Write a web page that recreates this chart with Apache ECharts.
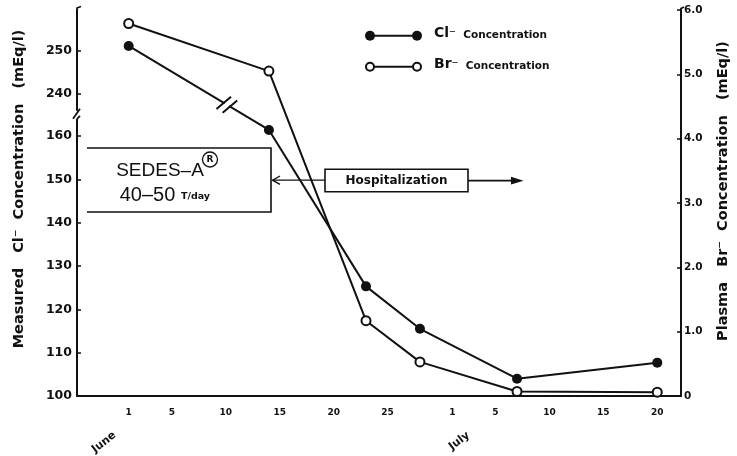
<!DOCTYPE html>
<html><head><meta charset="utf-8">
<script src="https://cdn.jsdelivr.net/npm/echarts@6/dist/echarts.min.js"></script>
<style>html,body{margin:0;padding:0;background:#fff}#c{width:737px;height:456px}</style>
</head><body><div id="c"></div>
<script>
// ---- data (days counted from June 1 = 1; July 1 = 31) ----
const days = [1, 14, 23, 28, 37, 50];
const clValues = [251, 161.4, 125.3, 115.5, 104, 107.7];
const brValues = [5.79, 5.05, 1.17, 0.53, 0.07, 0.06];
const xTickDays = [1, 5, 10, 15, 20, 25, 31, 35, 40, 45, 50];
const xTickLabels = ['1', '5', '10', '15', '20', '25', '1', '5', '10', '15', '20'];
const monthDays = [1, 31];
const monthLabels = ['June', 'July'];
const leftTicks = [100, 110, 120, 130, 140, 150, 160, 240, 250];
const rightTicks = [0, 1, 2, 3, 4, 5, 6];
const rightTickLabels = ['0', '1.0', '2.0', '3.0', '4.0', '5.0', '6.0'];
const leftAxisName = 'Measured   Cl\u207B  Concentration   (mEq/l)';
const rightAxisName = 'Plasma   Br\u207B  Concentration   (mEq/l)';
const legendLabels = ['Cl', 'Br'];
const legendSuffix = 'Concentration';

const INK = '#111';
const FONT = 'DejaVu Sans';

const chart = echarts.init(document.getElementById('c'), null, {renderer: 'canvas'});
const option = {
  animation: false,
  backgroundColor: '#fff',
  textStyle: {fontFamily: FONT, color: INK},
  grid: {left: 77, right: 56, top: 10, bottom: 60, containLabel: false},
  xAxis: {
    type: 'value', min: -3.79, max: 52.2,
    splitLine: {show: false},
    axisLine: {show: true, onZero: false, lineStyle: {color: INK, width: 2}},
    axisTick: {show: false},
    axisLabel: {
      customValues: xTickDays,
      formatter: function (v) { const i = xTickDays.indexOf(v); return i >= 0 ? xTickLabels[i] : ''; },
      fontFamily: FONT, fontWeight: 'bold', fontSize: 9, color: INK, margin: 12
    }
  },
  yAxis: [
    {
      type: 'value', position: 'left', min: 100, max: 259.3,
      breaks: [{start: 164, end: 236, gap: '2%'}],
      breakArea: {show: true, expandOnClick: false,
        itemStyle: {color: 'rgba(255,255,255,0)', borderColor: 'rgba(255,255,255,0)', borderWidth: 0, opacity: 0}},
      splitLine: {show: false},
      axisLine: {show: true, onZero: false, lineStyle: {color: INK, width: 2}},
      axisTick: {show: true, inside: true, length: 4, customValues: leftTicks, lineStyle: {color: INK, width: 1.5}},
      axisLabel: {customValues: leftTicks, fontFamily: FONT, fontWeight: 'bold', fontSize: 12.5, margin: 5, color: INK}
    },
    {
      type: 'value', position: 'right', min: 0, max: 6,
      splitLine: {show: false},
      axisLine: {show: true, onZero: false, lineStyle: {color: INK, width: 2}},
      axisTick: {show: true, inside: true, length: 4, customValues: rightTicks, lineStyle: {color: INK, width: 1.5}},
      axisLabel: {
        customValues: rightTicks,
        formatter: function (v) { const i = rightTicks.indexOf(v); return i >= 0 ? rightTickLabels[i] : ''; },
        fontFamily: FONT, fontWeight: 'bold', fontSize: 10.5, margin: 3, color: INK
      }
    }
  ],
  series: [
    {
      name: 'Cl', type: 'line', yAxisIndex: 0, z: 3,
      data: days.map((d, i) => [d, clValues[i]]),
      symbol: 'circle', symbolSize: 10, showSymbol: true,
      itemStyle: {color: INK},
      lineStyle: {color: INK, width: 2}
    },
    {
      name: 'Br', type: 'line', yAxisIndex: 1, z: 4,
      data: days.map((d, i) => [d, brValues[i]]),
      symbol: 'circle', symbolSize: 9, showSymbol: true,
      itemStyle: {color: '#fff', borderColor: INK, borderWidth: 2},
      lineStyle: {color: INK, width: 2}
    }
  ]
};
chart.setOption(option);

// ---- decorations placed from the chart's own coordinate system ----
const g = [];
const px = d => chart.convertToPixel({xAxisIndex: 0}, d);
const p1 = chart.convertToPixel({seriesIndex: 0}, [days[0], clValues[0]]);
const p2 = chart.convertToPixel({seriesIndex: 0}, [days[1], clValues[1]]);
const yBot = chart.convertToPixel({yAxisIndex: 1}, 0);
const xLeft = px(-3.79), xRight = px(52.2);

// break mark on the Cl line
(function () {
  const t = 0.7;
  const cx = p1[0] + t * (p2[0] - p1[0]), cy = p1[1] + t * (p2[1] - p1[1]);
  const L = Math.hypot(p2[0] - p1[0], p2[1] - p1[1]);
  const ux = (p2[0] - p1[0]) / L, uy = (p2[1] - p1[1]) / L;
  const vx = Math.cos(40 * Math.PI / 180), vy = -Math.sin(40 * Math.PI / 180);
  g.push({type: 'line', z: 50, shape: {x1: cx - 2.6 * ux, y1: cy - 2.6 * uy, x2: cx + 2.6 * ux, y2: cy + 2.6 * uy},
    style: {stroke: '#fff', lineWidth: 5}});
  [-3.6, 3.6].forEach(o => {
    const mx = cx + o * ux, my = cy + o * uy;
    g.push({type: 'line', z: 51, shape: {x1: mx - 9.5 * vx, y1: my - 9.5 * vy, x2: mx + 9.5 * vx, y2: my + 9.5 * vy},
      style: {stroke: INK, lineWidth: 2}});
  });
})();

// break mark on left axis
(function () {
  const yA = chart.convertToPixel({yAxisIndex: 0}, 164);
  const yB = chart.convertToPixel({yAxisIndex: 0}, 236);
  const ym = (yA + yB) / 2;
  g.push({type: 'rect', z: 50, shape: {x: xLeft - 4, y: ym - 4, width: 8, height: 8}, style: {fill: '#fff'}});
  g.push({type: 'line', z: 51, shape: {x1: xLeft + 3, y1: ym - 6, x2: xLeft - 4, y2: ym + 4}, style: {stroke: INK, lineWidth: 1.8}});
  g.push({type: 'polyline', z: 51, shape: {points: [[xLeft, ym + 4], [xLeft + 3, ym + 1]]}, style: {stroke: INK, lineWidth: 1.8, fill: null}});
  // top hooks
  g.push({type: 'polyline', z: 51, shape: {points: [[xLeft, 11], [xLeft, 8], [xLeft + 4, 6.5]]}, style: {stroke: INK, lineWidth: 1.8, fill: null}});
  g.push({type: 'polyline', z: 51, shape: {points: [[xRight, 11], [xRight, 8.5], [xRight + 3, 7]]}, style: {stroke: INK, lineWidth: 1.8, fill: null}});
})();

// month labels
monthDays.forEach((d, i) => {
  const x = px(d) + (i === 0 ? -14 : 16);
  g.push({type: 'text', z: 50, x: x, y: yBot + 38, rotation: 38 * Math.PI / 180,
    style: {text: monthLabels[i], font: 'bold 11px "DejaVu Sans"', fill: INK, align: 'right', verticalAlign: 'middle'}});
});

// axis names
g.push({type: 'text', z: 50, x: 19.5, y: 189, rotation: Math.PI / 2,
  style: {text: leftAxisName, font: 'bold 14.5px "DejaVu Sans"', fill: INK, align: 'center', verticalAlign: 'middle'}});
g.push({type: 'text', z: 50, x: 723.5, y: 191, rotation: Math.PI / 2,
  style: {text: rightAxisName, font: 'bold 14.5px "DejaVu Sans"', fill: INK, align: 'center', verticalAlign: 'middle'}});

// legend
[35.7, 66.7].forEach((y, i) => {
  g.push({type: 'line', z: 50, shape: {x1: 370, y1: y, x2: 417, y2: y}, style: {stroke: INK, lineWidth: 2}});
  [370, 417].forEach(x => {
    g.push({type: 'circle', z: 51, shape: {cx: x, cy: y, r: i === 0 ? 5 : 4},
      style: i === 0 ? {fill: INK} : {fill: '#fff', stroke: INK, lineWidth: 2}});
  });
  g.push({type: 'text', z: 50, x: 434, y: y + 5,
    style: {text: '{a|' + legendLabels[i] + '}{s|\u207B}{c|  ' + legendSuffix + '}', verticalAlign: 'bottom', align: 'left',
      rich: {
        a: {font: 'bold 14px "DejaVu Sans"', fill: INK, verticalAlign: 'bottom'},
        s: {font: 'bold 13px "DejaVu Sans"', fill: INK, verticalAlign: 'bottom'},
        c: {font: 'bold 10.5px "DejaVu Sans"', fill: INK, verticalAlign: 'bottom'}
      }}});
});

// SEDES-A box (open on the left)
g.push({type: 'polyline', z: 40, shape: {points: [[87, 148], [271, 148], [271, 212], [87, 212]]},
  style: {stroke: INK, lineWidth: 1.6, fill: null}});
g.push({type: 'text', z: 50, x: 160, y: 171, style: {text: 'SEDES\u2013A', font: '19px "Liberation Sans"', fill: INK, align: 'center', verticalAlign: 'middle'}});
g.push({type: 'circle', z: 50, shape: {cx: 210, cy: 159.5, r: 7.5}, style: {fill: '#fff', stroke: INK, lineWidth: 1.3}});
g.push({type: 'text', z: 51, x: 210, y: 160, style: {text: 'R', font: 'bold 9px "DejaVu Sans"', fill: INK, align: 'center', verticalAlign: 'middle'}});
g.push({type: 'text', z: 50, x: 147.5, y: 195, style: {text: '40\u201350', font: '20px "Liberation Sans"', fill: INK, align: 'center', verticalAlign: 'middle'}});
g.push({type: 'text', z: 50, x: 181, y: 202, style: {text: 'T/day', font: 'bold 9.5px "DejaVu Sans"', fill: INK, align: 'left', verticalAlign: 'bottom'}});

// Hospitalization box with arrows
g.push({type: 'rect', z: 40, shape: {x: 325, y: 169.3, width: 143, height: 22.4}, style: {fill: '#fff', stroke: INK, lineWidth: 1.6}});
g.push({type: 'text', z: 50, x: 396.5, y: 181, style: {text: 'Hospitalization', font: 'bold 12px "DejaVu Sans"', fill: INK, align: 'center', verticalAlign: 'middle'}});
g.push({type: 'line', z: 40, shape: {x1: 468, y1: 180.7, x2: 516, y2: 180.7}, style: {stroke: INK, lineWidth: 1.8}});
g.push({type: 'polygon', z: 40, shape: {points: [[523.5, 180.7], [511, 176.8], [511, 184.6]]}, style: {fill: INK}});
g.push({type: 'line', z: 40, shape: {x1: 325, y1: 180.2, x2: 273, y2: 180.2}, style: {stroke: INK, lineWidth: 1.3}});
g.push({type: 'polyline', z: 40, shape: {points: [[280, 176], [272.5, 180.2], [280, 184.4]]}, style: {stroke: INK, lineWidth: 1.4, fill: null}});

chart.setOption({graphic: g});
</script>
</body></html>
